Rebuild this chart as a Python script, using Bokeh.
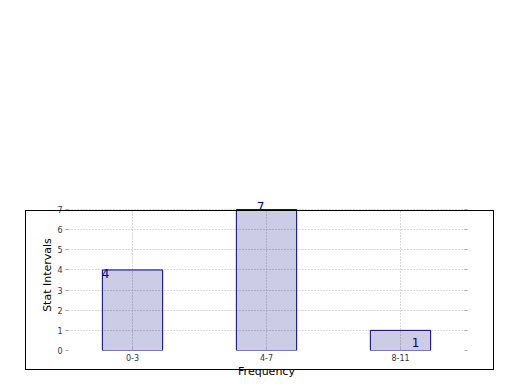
from bokeh.plotting import figure
from bokeh.models import (FactorRange, Range1d, LinearAxis, ColumnDataSource, FixedTicker,
                          InlineStyleSheet)
from bokeh.core.properties import value
from bokeh.embed import file_html
from bokeh.resources import INLINE

categories = ["0-3", "4-7", "8-11"]
counts = [4, 7, 1]
y_ticks = [0, 1, 2, 3, 4, 5, 6, 7]

# label placement (style only)
label_dx = [-27, -6, 15]
label_dy = [4, -3, 12]

FONT = "DejaVu Sans"
GRID = "#b0b0b0"

src = ColumnDataSource(dict(cat=categories, val=counts, txt=[str(c) for c in counts],
                            dx=label_dx, dy=label_dy,
                            y0=[y_ticks[0]] * len(categories),
                            y1=[y_ticks[-1]] * len(categories)))

p = figure(width=520, height=390, x_range=FactorRange(*categories, range_padding=0),
           y_range=Range1d(0, 7.5), output_backend="svg", toolbar_location=None,
           min_border_left=65, min_border_right=53, min_border_top=199, min_border_bottom=40)
p.outline_line_color = None
p.background_fill_color = "white"
p.border_fill_color = "white"

# vertical dotted grid, limited to the tick span
p.segment(x0="cat", y0="y0", x1="cat", y1="y1", source=src, line_color=GRID,
          line_dash="1 2", line_width=1)

p.vbar(x="cat", top="val", width=0.45, source=src, fill_color="navy", fill_alpha=0.2,
       line_color="navy", line_width=1)

p.text(x="cat", y="val", text="txt", source=src, x_offset="dx", y_offset="dy",
       text_font=value(FONT), text_font_size="12px", text_color="navy",
       text_align="center", text_baseline="middle")

p.xgrid.grid_line_color = None
p.ygrid.grid_line_color = GRID
p.ygrid.grid_line_dash = "1 2"
p.ygrid.grid_line_width = 1
p.ygrid.ticker = FixedTicker(ticks=y_ticks)

p.yaxis.ticker = FixedTicker(ticks=y_ticks)
for ax in (p.xaxis[0], p.yaxis[0]):
    ax.axis_line_color = None
    ax.major_tick_line_color = "#aaaaaa"
    ax.major_tick_in = 3
    ax.major_tick_out = 0
    ax.minor_tick_line_color = None
    ax.major_label_text_font = FONT
    ax.major_label_text_font_size = "8px"
    ax.major_label_text_color = "#333333"
    ax.axis_label_text_font = FONT
    ax.axis_label_text_font_size = "11px"
    ax.axis_label_text_font_style = "normal"
    ax.axis_label_text_color = "black"

p.xaxis.axis_label = "Frequency"
p.yaxis.axis_label = "Stat Intervals"
p.xaxis.major_label_standoff = 3
p.xaxis.axis_label_standoff = 1
p.yaxis.major_label_standoff = 3
p.yaxis.axis_label_standoff = 0

right = LinearAxis(ticker=FixedTicker(ticks=y_ticks), axis_line_color=None,
                   major_tick_line_color="#aaaaaa", major_tick_in=3, major_tick_out=0,
                   minor_tick_line_color=None, major_label_text_font_size="0px")
right.major_label_overrides = {t: "" for t in y_ticks}
p.add_layout(right, "right")

p.stylesheets = [InlineStyleSheet(css=(
    ":host { position: relative; } "
    ":host::after { content: ''; position: absolute; left: 25px; top: 210px; "
    "width: 467px; height: 158px; border: 1px solid black; box-sizing: content-box; "
    "pointer-events: none; z-index: 10; }"))]

open("out.html", "w").write(file_html(p, INLINE))
